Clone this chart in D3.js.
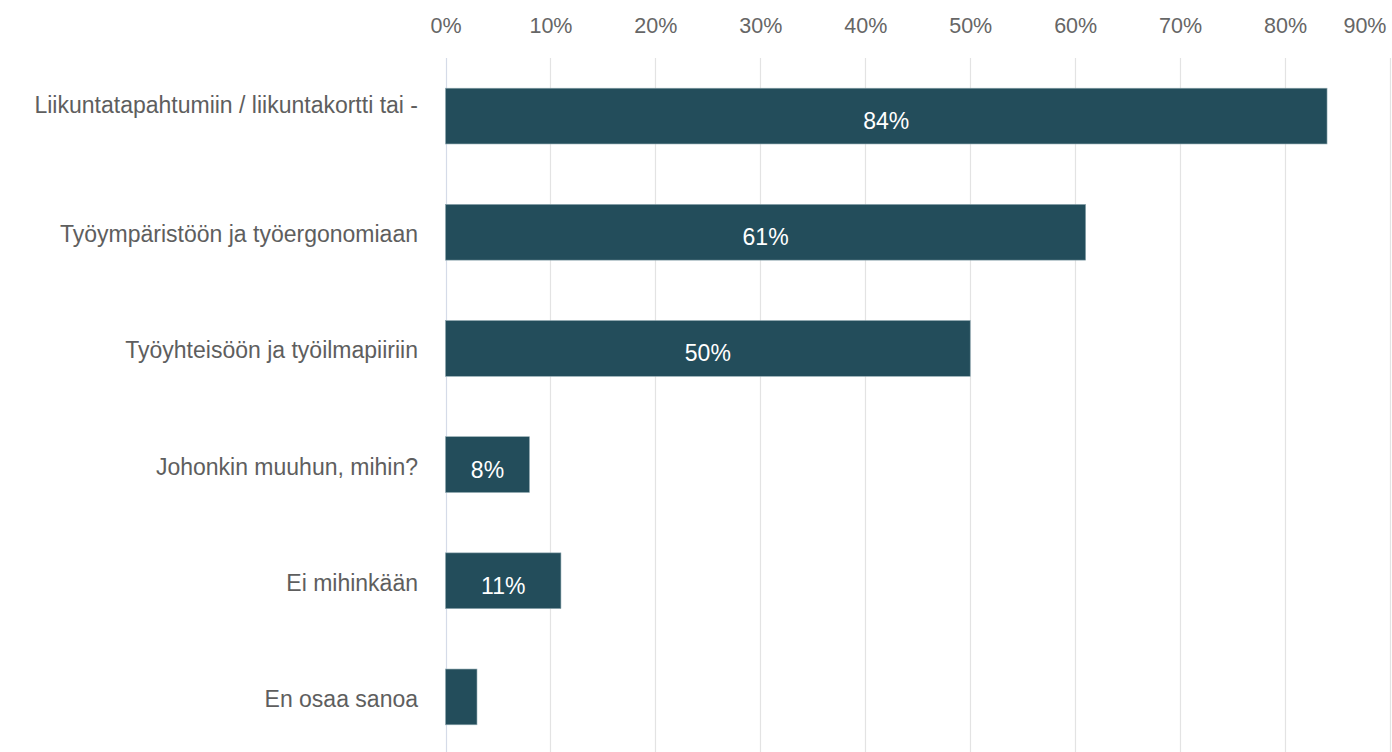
<!DOCTYPE html>
<html><head><meta charset="utf-8">
<script src="https://cdn.jsdelivr.net/npm/d3@7"></script>
<style>html,body{margin:0;padding:0;background:#fff;overflow:hidden}</style>
</head><body>
<svg id="chart" width="1392" height="752"></svg>
<script>
const categories = ["Liikuntatapahtumiin / liikuntakortti tai -","Työympäristöön ja työergonomiaan","Työyhteisöön ja työilmapiiriin","Johonkin muuhun, mihin?","Ei mihinkään","En osaa sanoa"];
// number of lines each category label was wrapped to (only the first line of the first label is visible)
const labelLines = [2, 1, 1, 1, 1, 1];
const values = [84, 61, 50, 8, 11, 3];
const tickValues = [0,10,20,30,40,50,60,70,80,90];
const labelMin = 5;

const svg = d3.select("#chart");
const x = d3.scaleLinear().domain([0,90]).range([445.5,1390]);
const y = d3.scaleBand().domain(categories).range([58,755]).paddingInner(0.52).paddingOuter(0.26);
const font = "'Liberation Sans', Arial, sans-serif";

// gridlines
svg.append("g").selectAll("line").data(tickValues).join("line")
  .attr("x1",d=>Math.round(x(d))+0.5).attr("x2",d=>Math.round(x(d))+0.5)
  .attr("y1",58).attr("y2",752)
  .attr("stroke",d=>d===0?"#d5dbe8":"#e3e3e3").attr("stroke-width",1.2);

// tick labels
const xAxis = d3.axisTop(x).tickValues(tickValues).tickFormat(d=>d+"%").tickSize(0);
const gx = svg.append("g").attr("transform","translate(0,36)").call(xAxis);
gx.select(".domain").remove();
gx.selectAll("text").attr("font-family",font).attr("font-size",21.5).attr("fill","#666")
  .attr("dy",0).attr("text-anchor",d=>d===90?"end":"middle").attr("dx",d=>d===90?-4:0);

// bars
svg.append("g").selectAll("rect").data(values).join("rect")
  .attr("x",x(0)).attr("y",(d,i)=>y(categories[i]))
  .attr("width",d=>x(d)-x(0)).attr("height",y.bandwidth())
  .attr("fill","#234d5b").attr("stroke","#8fa8b0").attr("stroke-width",0.6);

// data labels
svg.append("g").selectAll("text").data(values.map((v,i)=>({v,c:categories[i]})).filter(d=>d.v>=labelMin)).join("text")
  .attr("x",d=>(x(d.v)+x(0))/2).attr("y",d=>y(d.c)+y.bandwidth()/2+5)
  .attr("dy","0.35em").attr("text-anchor","middle")
  .attr("font-family",font).attr("font-size",23).attr("fill","#fff")
  .text(d=>d.v+"%");

// category labels
const lineH = 27;
const yAxis = d3.axisLeft(y).tickSize(0).tickPadding(0);
const gy = svg.append("g").attr("transform","translate(418,0)").call(yAxis);
gy.select(".domain").remove();
gy.selectAll("text").attr("font-family",font).attr("font-size",23).attr("fill","#5e5e5e")
  .attr("dy","0.35em")
  .attr("y",(d,i)=>2-(labelLines[i]-1)*lineH/2);
</script>
</body></html>
